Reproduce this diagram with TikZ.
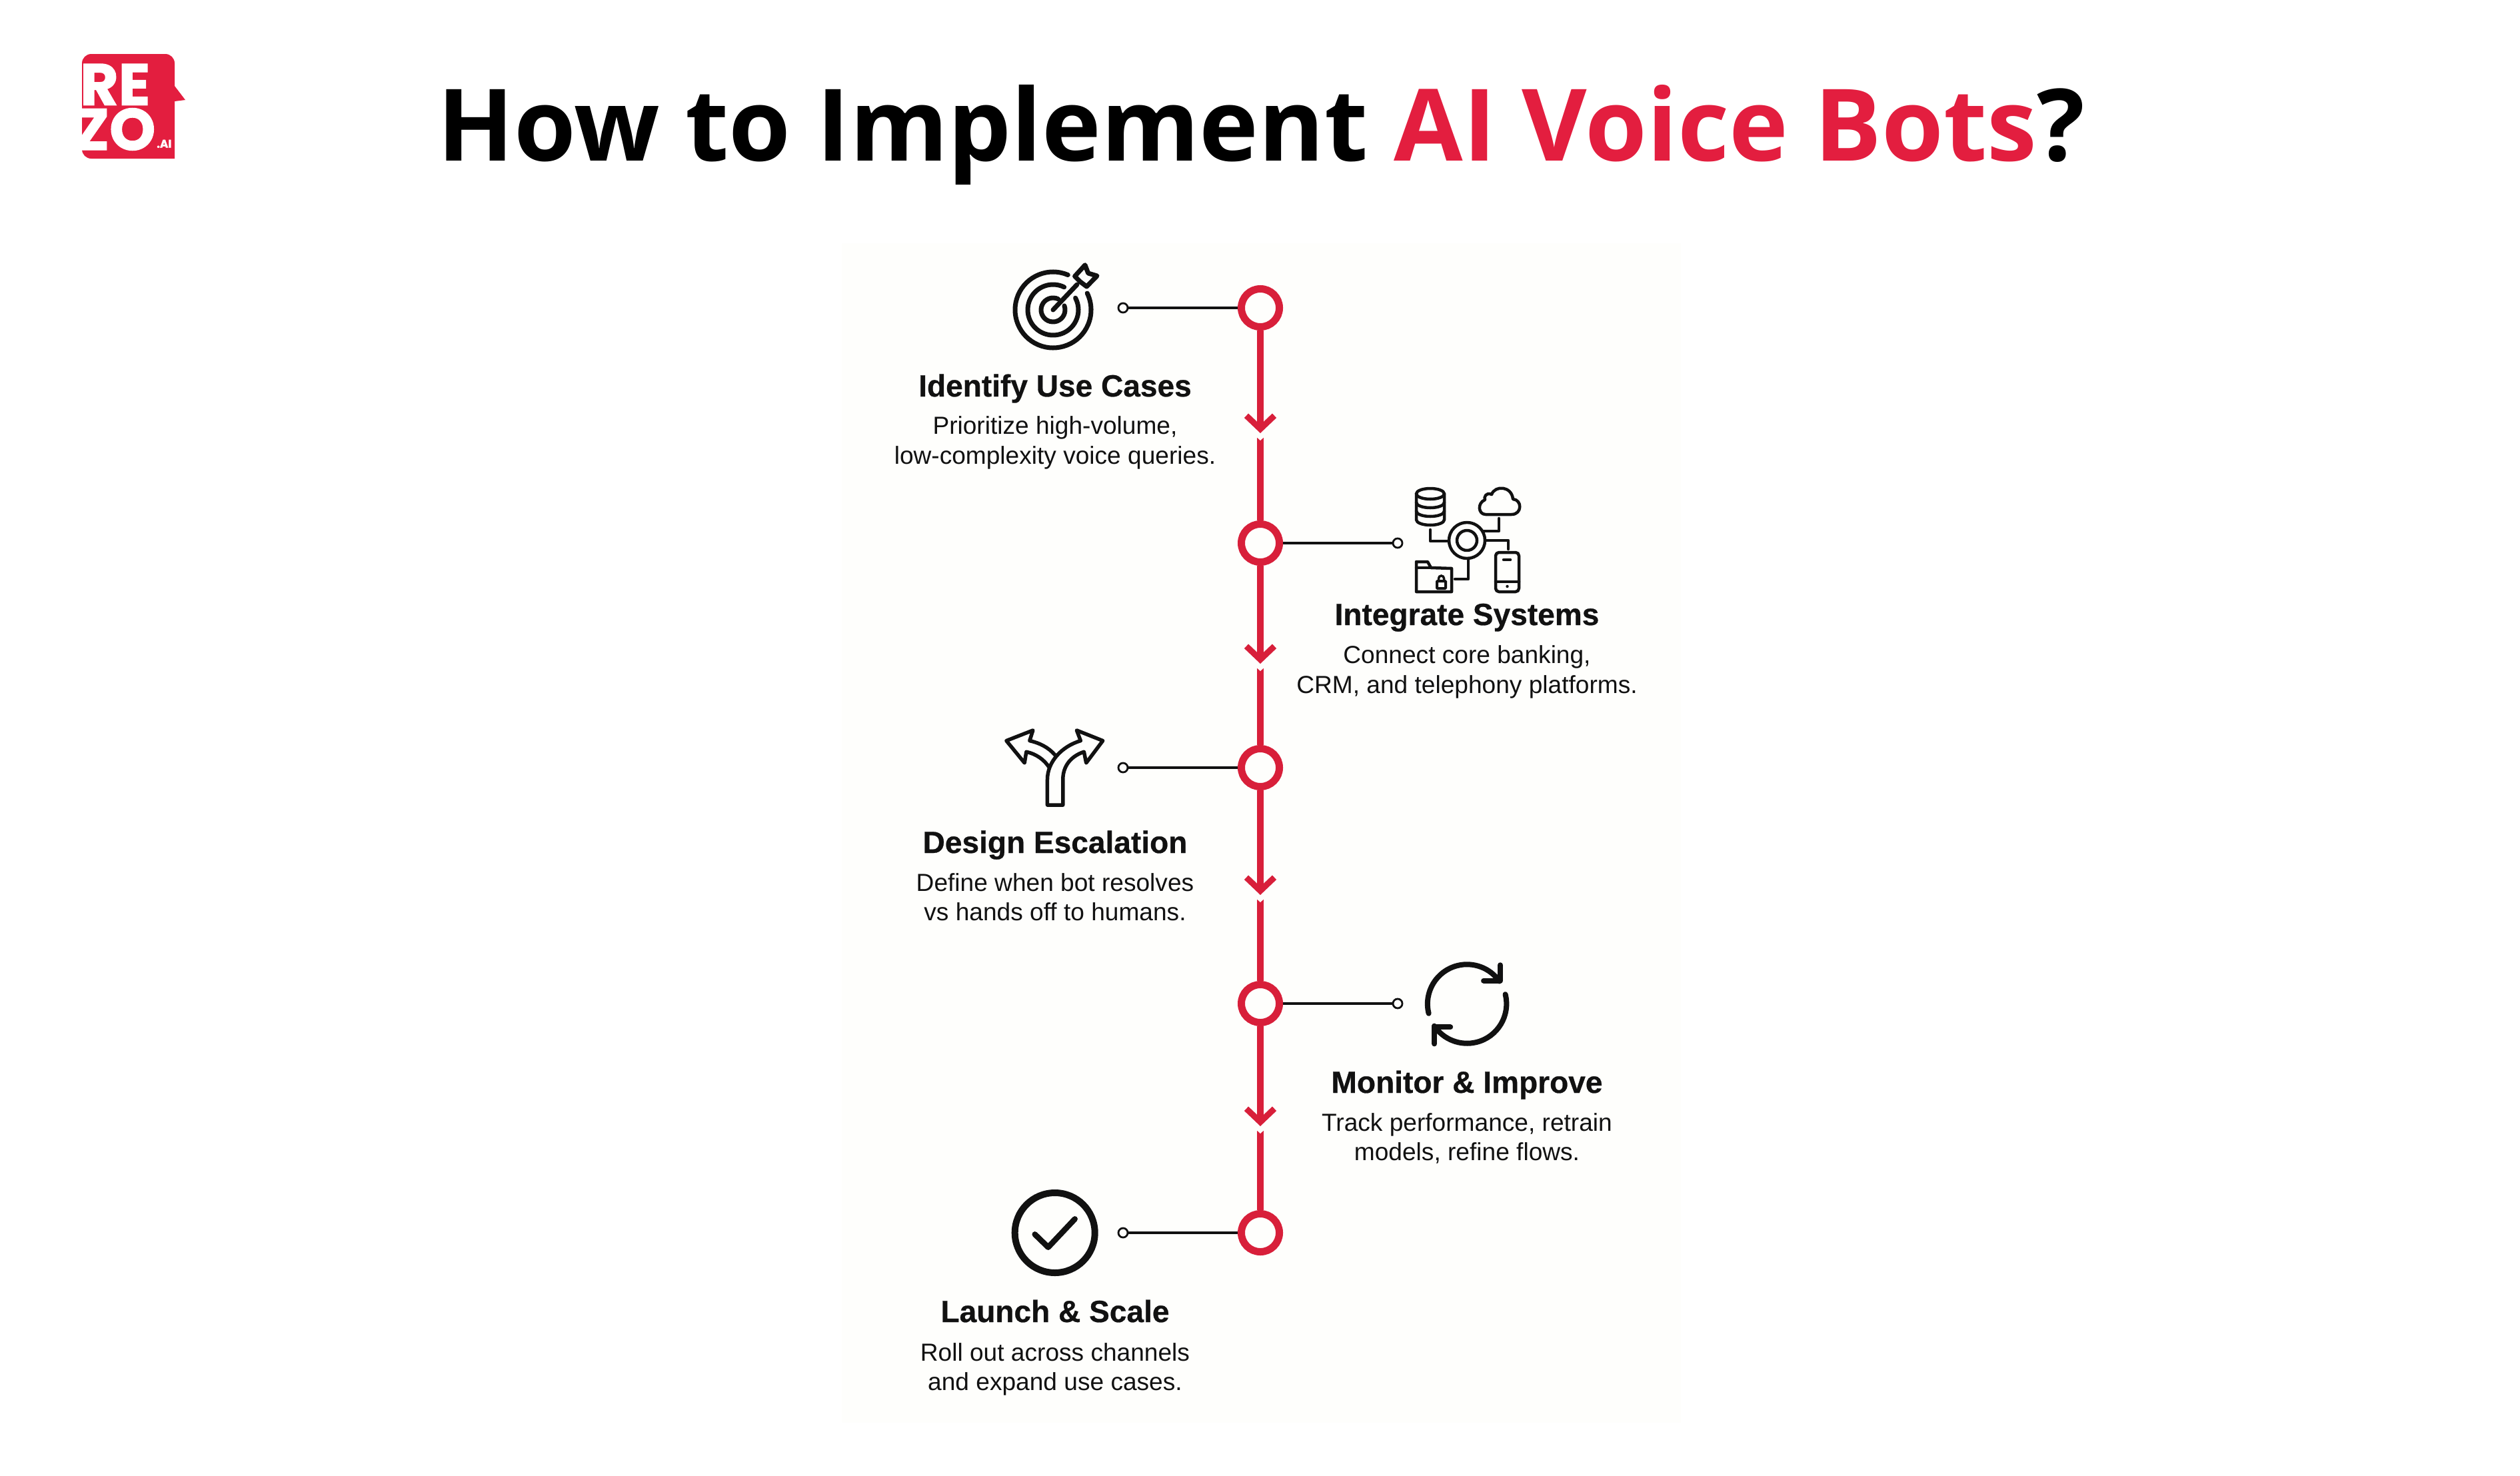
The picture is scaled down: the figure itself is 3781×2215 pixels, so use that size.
\documentclass[tikz,border=0pt]{standalone}
\usepackage{fontspec}
\usetikzlibrary{arrows.meta}
\setmainfont[BoldFeatures={FakeBold=0.6}]{Liberation Sans}
\newfontfamily\headfont{Open Sans}
\newfontfamily\logofont[BoldFeatures={FakeBold=1.5}]{Poppins}
\definecolor{rezored}{HTML}{E31E3F}
\definecolor{linered}{HTML}{D81F3A}
\definecolor{ink}{HTML}{111111}
\definecolor{panel}{HTML}{FEFEFC}
\tikzset{
  x=0.01cm,y=-0.01cm,
  ring/.style={circle,draw=linered,line width=0.11cm,fill=panel,minimum size=0.57cm,inner sep=0pt},
  dot/.style={circle,draw=ink,line width=0.028cm,fill=panel,minimum size=0.14cm,inner sep=0pt},
  flow/.style={draw=linered,line width=0.1cm},
  flowtip/.style={flow,-{Straight Barb[length=0.2cm,width=0.42cm,line width=0.09cm]}},
  lead/.style={draw=ink,line width=0.032cm},
  icon/.style={draw=ink,line width=0.07cm,line cap=round,line join=round},
  fine/.style={draw=ink,line width=0.045cm,line cap=round,line join=round},
  steptitle/.style={anchor=base,inner sep=0pt,text=ink,font=\fontsize{13.1}{15}\selectfont\bfseries},
  stepdesc/.style={anchor=base,inner sep=0pt,text=ink,font=\fontsize{10.55}{12.7}\selectfont},
}
\begin{document}
\begin{tikzpicture}
\useasboundingbox (0,0) rectangle (3781,2215);
\fill[white] (0,0) rectangle (3781,2215);
\fill[panel] (1263,365) rectangle (2522,2135);
% logo
\fill[rezored] (123,95) arc[start angle=-180,end angle=-90,radius=14] -- (248,81) arc[start angle=-90,end angle=0,radius=14] -- (262,129) -- (278,150) -- (262,152) -- (262,238) -- (137,238) arc[start angle=-270,end angle=-180,radius=14] -- cycle;
\node[anchor=base east,inner sep=0pt,text=white,font=\logofont\fontsize{25}{25}\selectfont\bfseries] (lre) at (226,157.7) {RE};
\node[anchor=base east,inner sep=0pt,text=white,font=\logofont\fontsize{25}{25}\selectfont\bfseries] (lzo) at (234,225) {ZO};
\node[anchor=base west,inner sep=0pt,text=white,font=\logofont\fontsize{4.8}{5}\selectfont\bfseries] (lai) at (234.5,221.7) {.AI};
% title
\node[anchor=base,inner sep=0pt,font=\headfont\fontsize{42.7}{50}\selectfont\bfseries] (title) at (1892,241) {How to Implement \textcolor{rezored}{AI Voice Bots}?};
% spine nodes
\coordinate (t1) at (1891,650); \coordinate (s1) at (1891,657);
\coordinate (t2) at (1891,996); \coordinate (s2) at (1891,1003);
\coordinate (t3) at (1891,1343); \coordinate (s3) at (1891,1350);
\coordinate (t4) at (1891,1690); \coordinate (s4) at (1891,1697);
\node[ring] (c1) at (1891,462) {};
\node[ring] (c2) at (1891,815) {};
\node[ring] (c3) at (1891,1152) {};
\node[ring] (c4) at (1891,1506) {};
\node[ring] (c5) at (1891,1850) {};
\node[dot] (d1) at (1685,462) {};
\node[dot] (d2) at (2097,815) {};
\node[dot] (d3) at (1685,1152) {};
\node[dot] (d4) at (2097,1506) {};
\node[dot] (d5) at (1685,1850) {};
\foreach \a/\c in {1/2,2/3,3/4,4/5}{
  \draw[flowtip] (c\a) -- (t\a);
  \draw[flow] (s\a) -- (c\c);
  \fill[panel] (s\a) ++(-5.5,-1) -- ++(11,0) -- ++(-5.5,5) -- cycle;
}
\draw[lead] (c1) -- (d1);
\draw[lead] (c2) -- (d2);
\draw[lead] (c3) -- (d3);
\draw[lead] (c4) -- (d4);
\draw[lead] (c5) -- (d5);
% target icon
\draw[icon] (1580,465) ++(-67:57) arc[start angle=-67,end angle=-386,radius=57];
\draw[icon] (1580,465) ++(-64:38) arc[start angle=-64,end angle=-388,radius=38];
\draw[icon] (1580,465) ++(-65:18) arc[start angle=-65,end angle=-380,radius=18];
\draw[icon] (1580,465) -- (1616,427);
\draw[icon] (1612.6,414.6) -- (1628,397.7) -- (1632.7,410) -- (1646,414) -- (1630.4,430) -- (1621,423) -- cycle;
% integrate icon
\draw[fine] (2201,811) circle (27);
\draw[fine] (2201,811) circle (15);
\draw[fine] (2125,741) arc[start angle=-180,end angle=0,x radius=21,y radius=8] -- (2167,780) arc[start angle=0,end angle=180,x radius=21,y radius=8] -- cycle;
\draw[fine] (2125,741) arc[start angle=-180,end angle=-360,x radius=21,y radius=8];
\draw[fine] (2125,754) arc[start angle=-180,end angle=-360,x radius=21,y radius=8];
\draw[fine] (2125,767) arc[start angle=-180,end angle=-360,x radius=21,y radius=8];
\draw[fine] (2229,772) -- (2268,772) .. controls (2284,772) and (2284,750) .. (2270,749) .. controls (2268,729) and (2243,728) .. (2238,742) .. controls (2230,738) and (2226,746) .. (2228,750) .. controls (2216,755) and (2218,772) .. (2229,772) -- cycle;
\draw[fine] (2146,795) -- (2146,812) -- (2174,812);
\draw[fine] (2249,778) -- (2249,797) -- (2226,797);
\draw[fine] (2263,824) -- (2263,811) -- (2229,811);
\draw[fine] (2203,838) -- (2203,869) -- (2183,869);
\draw[fine,rounded corners=0.05cm] (2244,829) rectangle (2279,888);
\draw[fine] (2256,840) -- (2266,840);
\draw[fine] (2244,873) -- (2279,873);
\fill[ink] (2261.5,880) circle (2.2);
\draw[fine] (2125,888) -- (2125,843) -- (2142,843) -- (2147,852) -- (2178,853) -- (2178,888) -- cycle;
\draw[fine] (2125,852) -- (2147,852);
\draw[draw=ink,line width=0.04cm,rounded corners=0.01cm] (2156,872) rectangle (2169,883);
\draw[draw=ink,line width=0.035cm] (2158.5,872) -- (2158.5,868) arc[start angle=-180,end angle=0,radius=4] -- (2166.5,872);
% fork icon
\begin{scope}[shift={(1450,1060)},x=0.003333cm,y=-0.003333cm]
\draw[fine,line width=0.055cm] (365,445) -- (365,330) .. controls (365,250) and (430,180) .. (515,155) -- (497,108) -- (615,155) -- (540,255) -- (530,205) .. controls (470,225) and (435,270) .. (435,330) -- (435,445) -- cycle;
\draw[fine,line width=0.055cm] (400,220) .. controls (370,185) and (330,165) .. (285,155) -- (300,108) -- (180,155) -- (262,255) -- (270,205) .. controls (315,215) and (350,240) .. (373,275);
\end{scope}
% refresh icon
\begin{scope}[shift={(1850,1400)},x=0.003333cm,y=-0.003333cm]
\draw[icon,line width=0.08cm] (1055,320) ++(-194:178) arc[start angle=-194,end angle=-35,radius=178];
\draw[icon,line width=0.08cm] (1205,145) -- (1205,215) -- (1130,215);
\draw[icon,line width=0.08cm] (1055,320) ++(-14:178) arc[start angle=-14,end angle=146,radius=178];
\draw[icon,line width=0.08cm] (908,500) -- (908,425) -- (980,425);
\end{scope}
% check icon
\draw[icon,line width=0.1cm] (1582.7,1850) circle (60);
\draw[icon,line width=0.085cm] (1552.7,1852.3) -- (1572.7,1871.7) -- (1612.7,1829.3);
% texts
\node[steptitle] (n1) at (1583,595) {Identify Use Cases};
\node[stepdesc] (e1a) at (1583,651) {Prioritize high-volume,};
\node[stepdesc] (e1b) at (1583,696) {low-complexity voice queries.};
\node[steptitle] (n2) at (2201,938) {Integrate Systems};
\node[stepdesc] (e2a) at (2201,995) {Connect core banking,};
\node[stepdesc] (e2b) at (2201,1040) {CRM, and telephony platforms.};
\node[steptitle] (n3) at (1583,1280) {Design Escalation};
\node[stepdesc] (e3a) at (1583,1337) {Define when bot resolves};
\node[stepdesc] (e3b) at (1583,1381) {vs hands off to humans.};
\node[steptitle] (n4) at (2201,1640) {Monitor \& Improve};
\node[stepdesc] (e4a) at (2201,1697) {Track performance, retrain};
\node[stepdesc] (e4b) at (2201,1741) {models, refine flows.};
\node[steptitle] (n5) at (1583,1984) {Launch \& Scale};
\node[stepdesc] (e5a) at (1583,2042) {Roll out across channels};
\node[stepdesc] (e5b) at (1583,2086) {and expand use cases.};
\end{tikzpicture}
\end{document}
